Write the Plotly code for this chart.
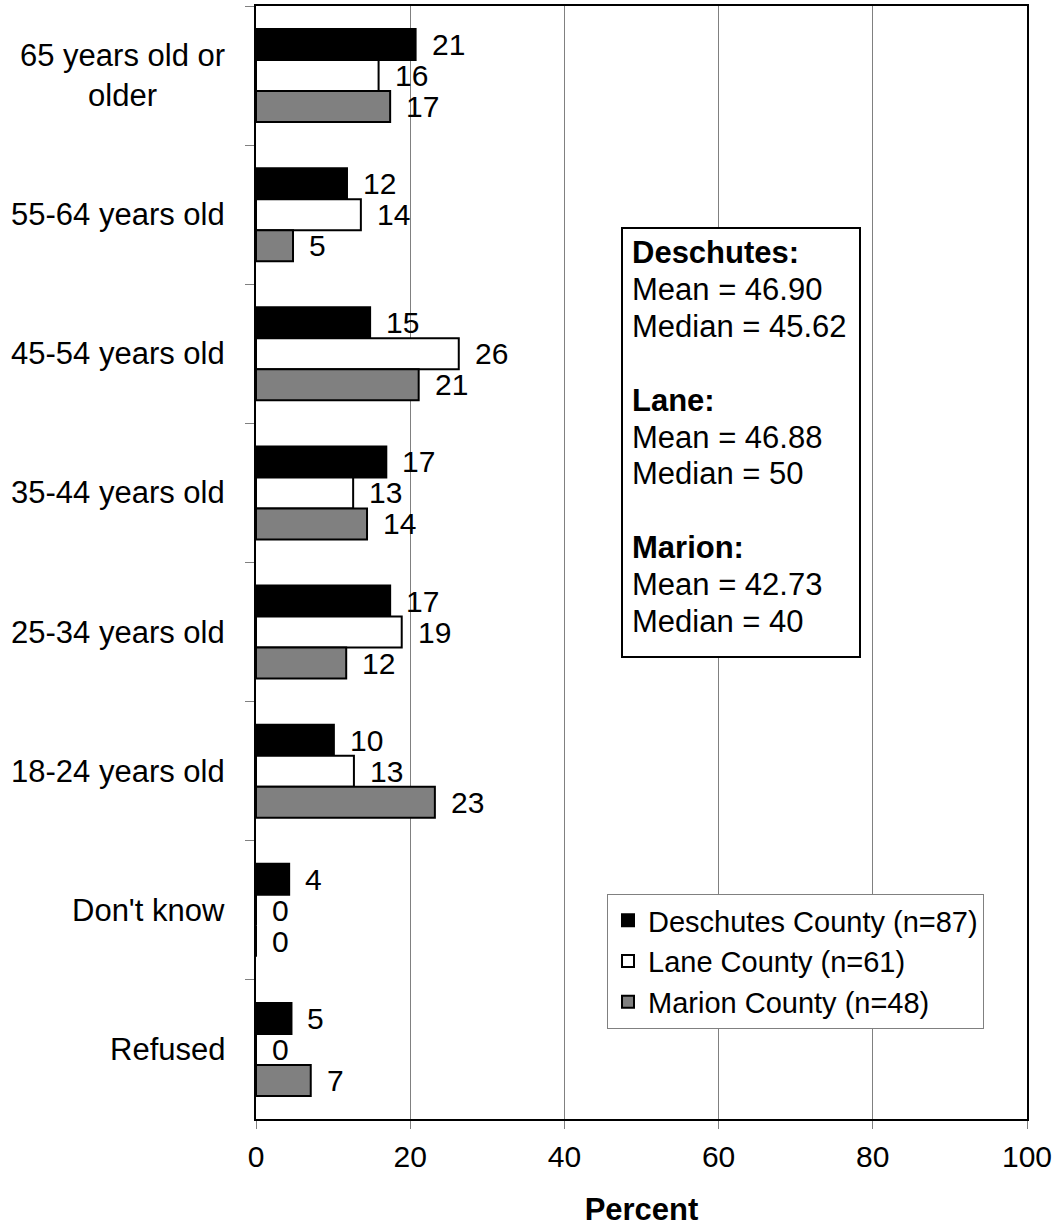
import plotly.graph_objects as go

# ---- data ----
categories = ["65 years old or older", "55-64 years old", "45-54 years old", "35-44 years old",
              "25-34 years old", "18-24 years old", "Don't know", "Refused"]
category_labels = ["65 years old or<br>older", "55-64 years old", "45-54 years old", "35-44 years old",
                   "25-34 years old", "18-24 years old", "Don't know", "Refused"]
series_names = ["Deschutes County (n=87)", "Lane County (n=61)", "Marion County (n=48)"]
deschutes = [20.7, 11.8, 14.8, 16.9, 17.4, 10.1, 4.3, 4.6]
lane = [15.9, 13.6, 26.3, 12.6, 18.9, 12.7, 0, 0]
marion = [17.4, 4.8, 21.1, 14.4, 11.7, 23.2, 0, 7.1]
x_ticks = [0, 20, 40, 60, 80, 100]

stat_counties = ["Deschutes:", "Lane:", "Marion:"]
stat_means = ["46.90", "46.88", "42.73"]
stat_medians = ["45.62", "50", "40"]

colors = ["#000000", "#FFFFFF", "#808080"]
FONT = "Liberation Sans, Arial, Helvetica, sans-serif"

W, H = 1056, 1228
ML, MR, MT, MB = 256, 29, 6, 109
plot_h = H - MT - MB

fig = go.Figure()
all_series = [deschutes, lane, marion]
for name, vals, col in zip(series_names, all_series, colors):
    fig.add_trace(go.Bar(
        y=categories, x=vals, name=name, orientation="h",
        marker=dict(color=col, line=dict(color="#000000", width=2)),
        hoverinfo="x+y+name",
    ))

annotations = []
# category labels (centered multi-line, right edge at fixed position)
for cat, lab in zip(categories, category_labels):
    annotations.append(dict(
        x=0, xref="paper", y=cat, yref="y", text=lab, showarrow=False,
        xanchor="right", yanchor="middle", align="center", xshift=-29,
        font=dict(family=FONT, size=31, color="#000000"),
    ))

# data labels
bargap = 0.331
slot = plot_h / len(categories)
bar_px = slot * (1 - bargap) / 3
yshifts = [bar_px, 0, -bar_px]
for vals, ys in zip(all_series, yshifts):
    for cat, v in zip(categories, vals):
        annotations.append(dict(
            x=v, xref="x", y=cat, yref="y", text=str(int(v + 0.5)), showarrow=False,
            xanchor="left", yanchor="middle", xshift=14, yshift=ys,
            font=dict(family=FONT, size=30, color="#000000"),
        ))

# statistics box text
def py_to_paper(py):
    return (H - MB - py) / plot_h

lines = []
for c, m, md in zip(stat_counties, stat_means, stat_medians):
    lines.append("<b>" + c + "</b>")
    lines.append("Mean = " + m)
    lines.append("Median = " + md)
    lines.append("")
lines = lines[:-1]
line_start, line_step = 253, 36.8
for i, t in enumerate(lines):
    if not t:
        continue
    annotations.append(dict(
        x=(630 - ML) / (W - ML - MR), xref="paper", y=py_to_paper(line_start + i * line_step), yref="paper",
        text=t, showarrow=False, xanchor="left", yanchor="middle", align="left",
        font=dict(family=FONT, size=31, color="#000000"),
    ))

fig.add_shape(type="rect", xref="paper", yref="paper",
              x0=(622 - ML) / (W - ML - MR), x1=(860 - ML) / (W - ML - MR),
              y0=py_to_paper(657), y1=py_to_paper(228),
              line=dict(color="#000000", width=2), fillcolor="#FFFFFF", layer="above")

fig.update_layout(
    width=W, height=H,
    margin=dict(l=ML, r=MR, t=MT, b=MB),
    paper_bgcolor="#FFFFFF", plot_bgcolor="#FFFFFF",
    barmode="group", bargap=bargap, bargroupgap=0,
    font=dict(family=FONT, size=31, color="#000000"),
    showlegend=True,
    legend=dict(
        x=(607 - ML) / (W - ML - MR), y=py_to_paper(894), xanchor="left", yanchor="top",
        bordercolor="#808080", borderwidth=1, bgcolor="#FFFFFF",
        font=dict(family=FONT, size=29, color="#000000"),
        traceorder="normal", tracegroupgap=0,
    ),
    annotations=annotations,
    xaxis=dict(
        range=[0, 100], tickvals=x_ticks, ticktext=[str(t) for t in x_ticks],
        showgrid=True, gridcolor="#808080", gridwidth=1, zeroline=False,
        showline=True, linecolor="#000000", linewidth=2, mirror=True,
        ticks="outside", ticklen=8, tickcolor="#808080", tickwidth=1,
        tickfont=dict(family=FONT, size=30, color="#000000"),
        ticklabelstandoff=2,
        title=dict(text="<b>Percent</b>", font=dict(family=FONT, size=31, color="#000000"), standoff=26),
        automargin=False, fixedrange=True,
    ),
    yaxis=dict(
        type="category", categoryorder="array", categoryarray=categories,
        autorange="reversed", showticklabels=False, showgrid=False, zeroline=False,
        showline=True, linecolor="#000000", linewidth=2, mirror=True,
        ticks="outside", ticklen=9, tickcolor="#808080", tickwidth=1, tickson="boundaries",
        automargin=False, fixedrange=True,
    ),
)

fig.write_html("out.html", config={"displayModeBar": False},
               post_script="document.body.style.margin='0';document.body.style.overflow='hidden';")
